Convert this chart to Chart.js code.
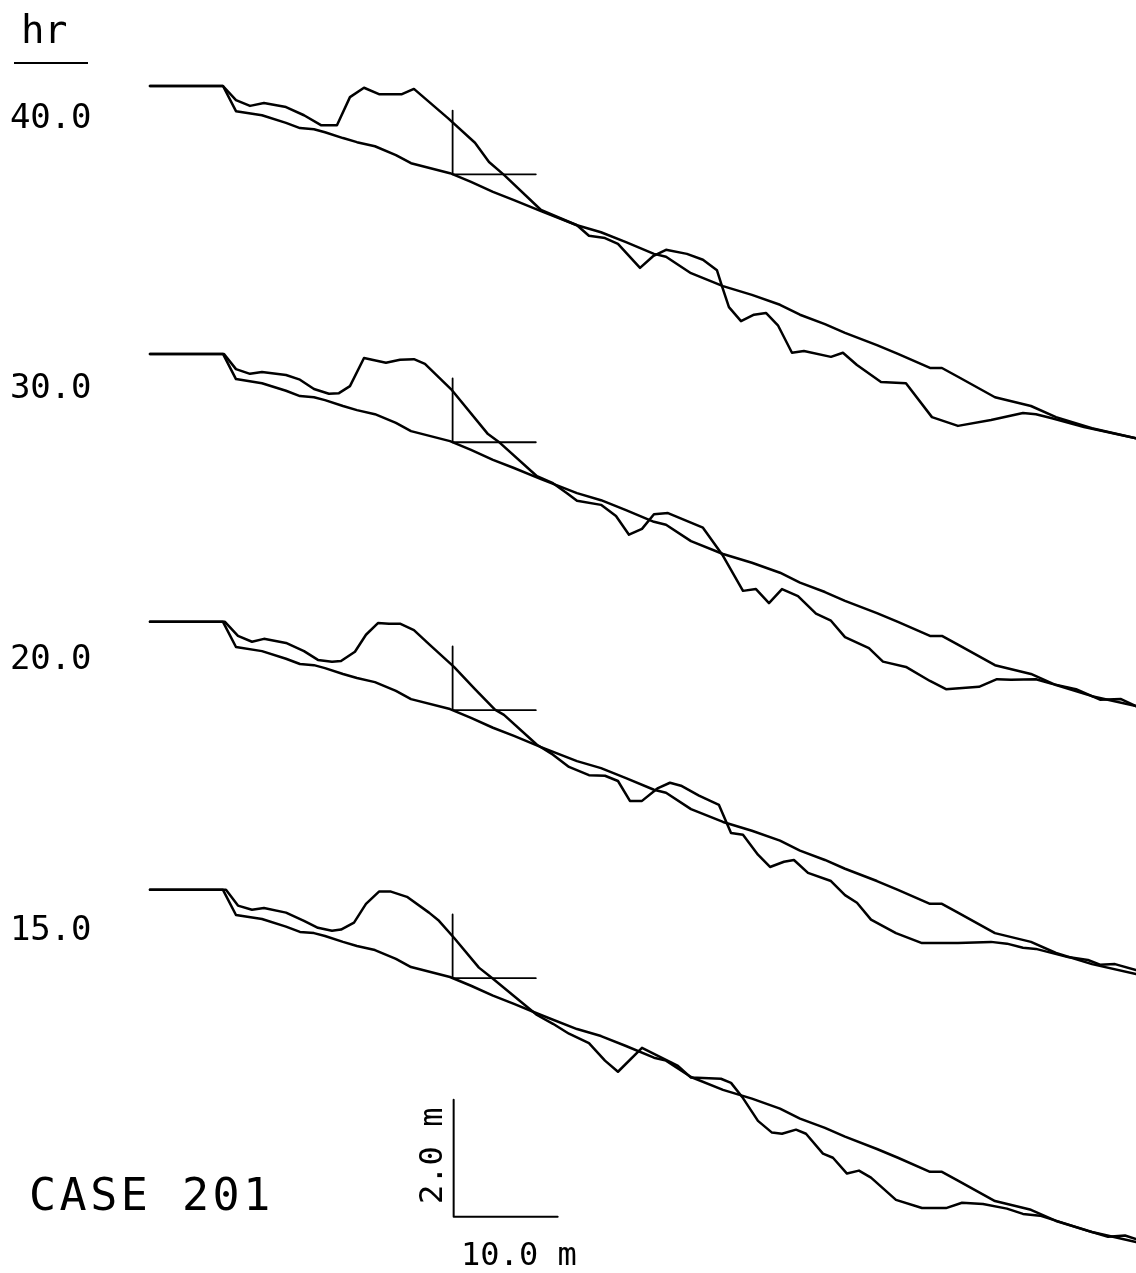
<!DOCTYPE html>
<html>
<head>
<meta charset="utf-8">
<script src="https://cdn.jsdelivr.net/npm/chart.js@4/dist/chart.umd.min.js"></script>
<style>
  html, body { margin: 0; padding: 0; background: #fff; }
  canvas { display: block; }
</style>
</head>
<body>
<canvas id="profileChart" width="1136" height="1273"></canvas>
<script>
// hours shown at the left of each profile (top to bottom)
const hours = ['40.0', '30.0', '20.0', '15.0'];

// initial profile: distance (m) / elevation (m, relative to berm)
const initialX = [0, 7.02, 8.27, 10.77, 13.08, 14.42, 15.77, 16.83, 18.56, 19.90, 21.63, 23.65, 25.10, 28.85, 30.87, 32.98, 35.00, 37.60, 41.06, 43.37, 45.77, 48.46, 49.62, 52.02, 55.10, 57.88, 60.58, 62.50, 64.90, 66.83, 69.90, 71.92, 75.00, 76.15, 77.69, 81.25, 84.71, 87.12, 90.58, 94.81];
const initialZ = [0, 0, -0.43, -0.50, -0.63, -0.72, -0.74, -0.79, -0.89, -0.96, -1.03, -1.18, -1.32, -1.49, -1.64, -1.81, -1.95, -2.14, -2.38, -2.50, -2.67, -2.87, -2.92, -3.20, -3.42, -3.57, -3.74, -3.91, -4.07, -4.22, -4.43, -4.58, -4.82, -4.82, -4.97, -5.32, -5.47, -5.66, -5.85, -6.02];

// measured profiles
const x40 = [0, 7.02, 8.27, 9.62, 10.96, 13.08, 14.81, 16.44, 17.98, 19.23, 20.58, 22.02, 24.23, 25.38, 28.65, 31.25, 32.60, 34.04, 37.60, 41.06, 42.21, 43.75, 45.00, 47.12, 48.37, 49.62, 51.63, 53.17, 54.52, 55.00, 55.67, 56.83, 58.08, 59.23, 60.38, 61.73, 62.88, 65.48, 66.63, 67.98, 70.29, 72.69, 75.19, 77.69, 80.87, 83.94, 85.19, 86.73, 89.81, 94.81];
const z40 = [0, 0, -0.24, -0.34, -0.29, -0.36, -0.50, -0.67, -0.67, -0.19, -0.03, -0.14, -0.14, -0.05, -0.55, -0.97, -1.30, -1.52, -2.12, -2.38, -2.56, -2.60, -2.70, -3.11, -2.91, -2.80, -2.87, -2.97, -3.15, -3.42, -3.78, -4.02, -3.91, -3.88, -4.09, -4.56, -4.53, -4.63, -4.56, -4.77, -5.06, -5.08, -5.66, -5.81, -5.71, -5.59, -5.61, -5.68, -5.83, -6.02];

const x30 = [0, 7.12, 8.27, 9.62, 10.77, 13.08, 14.42, 15.77, 17.21, 18.17, 19.23, 20.58, 22.69, 24.04, 25.38, 26.44, 29.04, 32.50, 33.65, 37.21, 38.75, 40.10, 41.06, 43.37, 44.81, 46.06, 47.31, 48.46, 49.81, 53.17, 55.10, 57.02, 58.27, 59.52, 60.77, 62.31, 64.04, 65.48, 66.83, 69.13, 70.48, 72.69, 75.00, 76.54, 79.71, 81.44, 82.79, 85.19, 86.73, 89.04, 91.35, 93.37, 94.81];
const z30 = [0, 0, -0.26, -0.34, -0.31, -0.36, -0.44, -0.60, -0.68, -0.67, -0.55, -0.07, -0.15, -0.10, -0.09, -0.17, -0.62, -1.37, -1.52, -2.09, -2.21, -2.38, -2.51, -2.58, -2.77, -3.09, -2.99, -2.74, -2.72, -2.97, -3.45, -4.05, -4.02, -4.26, -4.02, -4.14, -4.44, -4.56, -4.84, -5.03, -5.26, -5.35, -5.59, -5.73, -5.69, -5.56, -5.57, -5.56, -5.64, -5.73, -5.91, -5.90, -6.02];

const x20 = [0, 7.21, 8.46, 9.81, 10.96, 13.08, 14.81, 16.15, 17.50, 18.37, 19.71, 20.77, 21.92, 22.98, 24.04, 25.38, 26.83, 29.23, 31.25, 33.17, 34.04, 37.21, 38.75, 40.29, 42.21, 43.75, 45.00, 46.15, 47.31, 48.85, 50.00, 51.06, 52.79, 54.71, 55.87, 57.02, 58.46, 59.62, 60.96, 61.92, 63.27, 65.48, 66.83, 67.98, 69.33, 71.73, 74.23, 77.69, 80.87, 82.40, 83.94, 85.19, 88.27, 90.19, 91.35, 92.79, 94.81];
const z20 = [0, 0, -0.24, -0.34, -0.29, -0.36, -0.50, -0.65, -0.68, -0.67, -0.51, -0.22, -0.02, -0.03, -0.03, -0.14, -0.38, -0.77, -1.15, -1.50, -1.59, -2.10, -2.27, -2.48, -2.62, -2.63, -2.72, -3.06, -3.06, -2.84, -2.75, -2.80, -2.97, -3.13, -3.61, -3.64, -3.98, -4.19, -4.10, -4.07, -4.29, -4.43, -4.67, -4.80, -5.09, -5.32, -5.49, -5.49, -5.47, -5.50, -5.57, -5.59, -5.73, -5.78, -5.86, -5.85, -5.95];

const x15 = [0, 7.31, 8.46, 9.81, 10.96, 13.08, 14.81, 16.15, 17.50, 18.37, 19.62, 20.77, 22.02, 23.17, 24.71, 26.83, 27.79, 29.23, 31.63, 32.98, 37.21, 38.75, 40.29, 42.21, 43.75, 45.00, 47.31, 50.00, 50.77, 52.02, 54.90, 55.87, 57.02, 58.46, 59.81, 60.77, 62.12, 63.08, 64.71, 65.67, 67.02, 68.17, 69.33, 71.73, 74.23, 76.54, 78.08, 80.10, 82.40, 83.94, 85.58, 90.19, 92.12, 93.75, 94.81];
const z15 = [0, 0, -0.27, -0.34, -0.31, -0.39, -0.53, -0.65, -0.70, -0.68, -0.56, -0.24, -0.03, -0.03, -0.12, -0.39, -0.53, -0.82, -1.33, -1.52, -2.14, -2.29, -2.46, -2.62, -2.92, -3.11, -2.70, -2.94, -3.01, -3.21, -3.23, -3.30, -3.56, -3.95, -4.15, -4.17, -4.10, -4.17, -4.51, -4.58, -4.85, -4.80, -4.92, -5.30, -5.44, -5.44, -5.35, -5.37, -5.45, -5.54, -5.57, -5.83, -5.93, -5.91, -5.97];

// reference marker drawn on every profile (vertical + horizontal tick)
const markerX = [29.1, 29.1, 37.1];
const markerZ = [-0.42, -1.51, -1.51];

// scale bar: 2.0 m vertical, 10.0 m horizontal
const scaleBarX = [29.2, 29.2, 39.2];
const scaleBarZ = [-17.33, -19.33, -19.33];

const measuredX = [x40, x30, x20, x15];
const measuredZ = [z40, z30, z20, z15];
const stackStep = 4.58; // vertical spacing between profiles (m)

function pts(xs, zs, off) {
  return xs.map((x, i) => ({ x: x, y: zs[i] + off }));
}

const datasets = [];
hours.forEach((h, k) => {
  const off = -k * stackStep;
  datasets.push({ label: 'initial ' + h, data: pts(initialX, initialZ, off), borderWidth: 2.5 });
  datasets.push({ label: h + ' hr', data: pts(measuredX[k], measuredZ[k], off), borderWidth: 2.5 });
  datasets.push({ label: 'marker ' + h, data: pts(markerX, markerZ, off), borderWidth: 1.8 });
});
datasets.push({ label: 'scale', data: pts(scaleBarX, scaleBarZ, 0), borderWidth: 2 });
datasets.forEach(d => {
  d.showLine = true;
  d.borderColor = '#000';
  d.borderJoinStyle = 'round';
  d.borderCapStyle = 'round';
  d.pointRadius = 0;
  d.tension = 0;
  d.fill = false;
});

// text in a plotter-like monospaced font
function mono(ctx, text, x, y, size, pitch) {
  ctx.font = size + 'px "DejaVu Sans Mono"';
  for (let i = 0; i < text.length; i++) {
    ctx.fillText(text[i], x + i * pitch, y);
  }
}

const labelBaseline = [128, 398, 669, 940];

const textPlugin = {
  id: 'plotText',
  afterDraw(chart) {
    const ctx = chart.ctx;
    ctx.save();
    ctx.fillStyle = '#000';
    ctx.textBaseline = 'alphabetic';
    ctx.textAlign = 'left';
    // header
    mono(ctx, 'hr', 21, 43, 39, 23);
    ctx.strokeStyle = '#000';
    ctx.lineWidth = 2;
    ctx.beginPath();
    ctx.moveTo(14, 63);
    ctx.lineTo(88, 63);
    ctx.stroke();
    // hour labels
    hours.forEach((h, k) => mono(ctx, h, 10, labelBaseline[k], 34, 20.3));
    // case name
    mono(ctx, 'CASE 201', 29, 1210, 45, 30.6);
    // scale bar labels
    mono(ctx, '10.0 m', 461, 1265, 32, 19.3);
    ctx.translate(442, 1204);
    ctx.rotate(-Math.PI / 2);
    mono(ctx, '2.0 m', 0, 0, 32, 19.3);
    ctx.restore();
  }
};

const ctx = document.getElementById('profileChart').getContext('2d');
const profileChart = new Chart(ctx, {
  type: 'scatter',
  data: { datasets: datasets },
  options: {
    responsive: false,
    devicePixelRatio: 1,
    animation: false,
    layout: { padding: 0 },
    plugins: { legend: { display: false }, tooltip: { enabled: false } },
    scales: {
      x: { type: 'linear', display: false, min: -14.42, max: 94.81 },
      y: { type: 'linear', display: false, min: -20.29, max: 1.47 }
    }
  },
  plugins: [textPlugin]
});
</script>
</body>
</html>
